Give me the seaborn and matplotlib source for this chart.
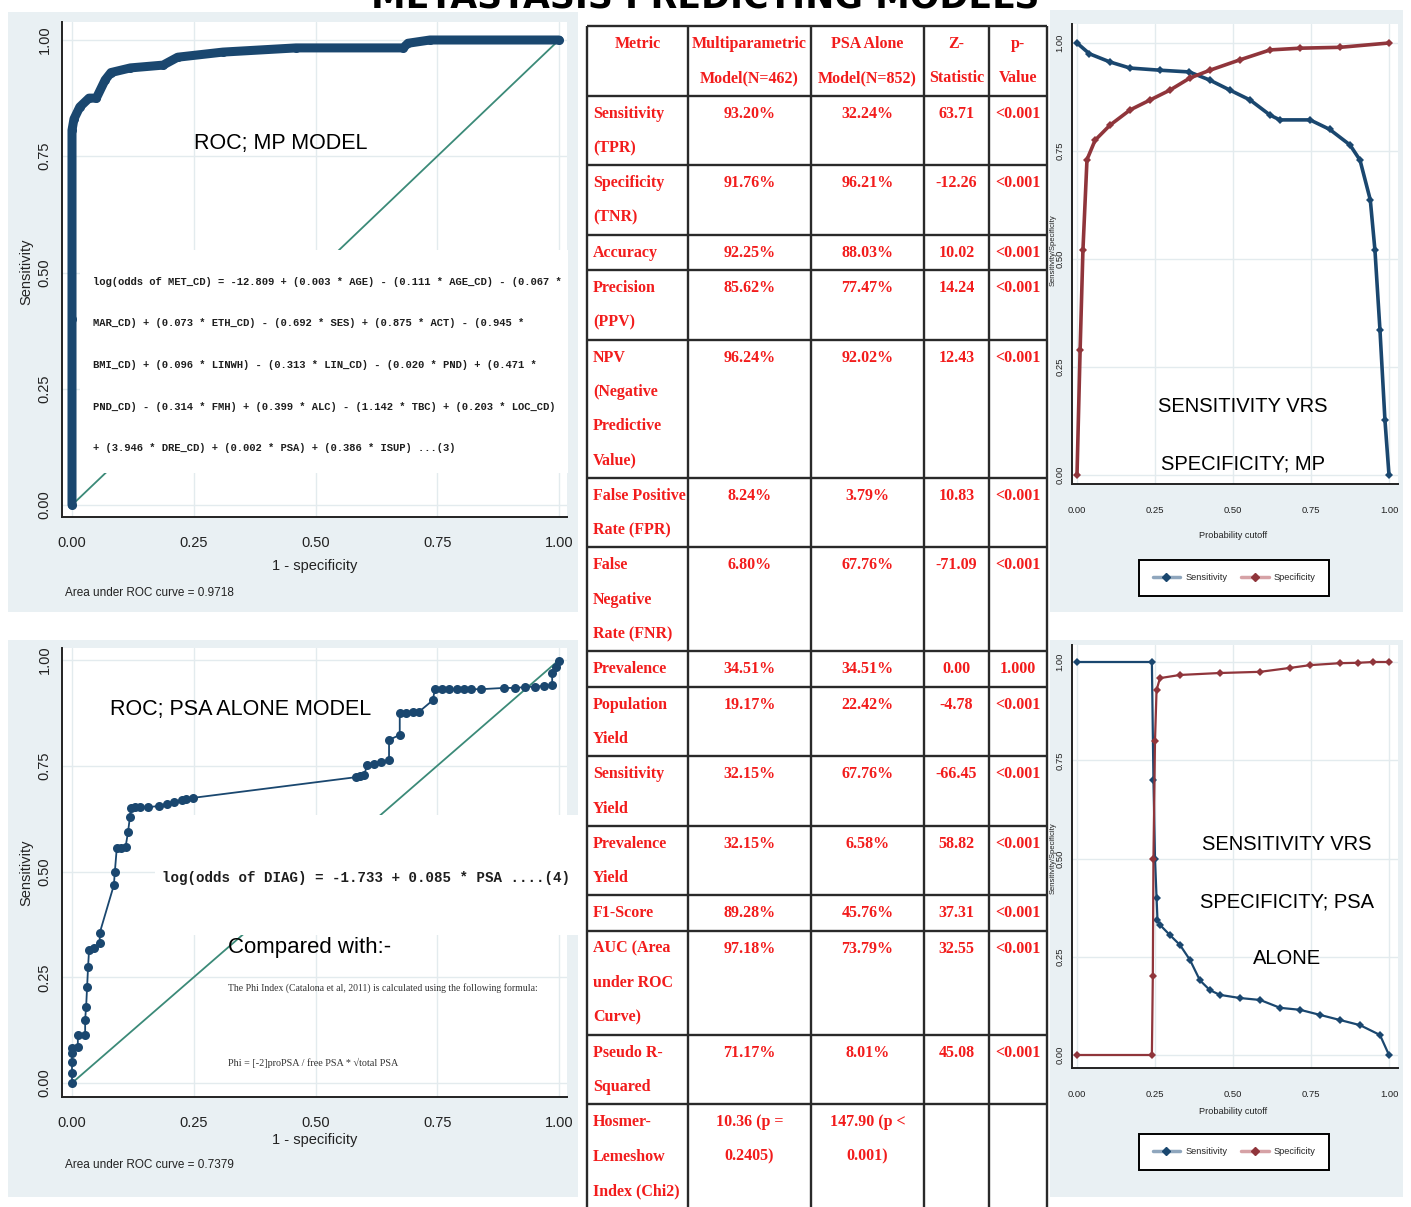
import os
import matplotlib
matplotlib.use("Agg")
import matplotlib.pyplot as plt
import seaborn as sns
from matplotlib import font_manager as fm
from matplotlib.patches import Rectangle
from matplotlib.lines import Line2D

# ------------------------------------------------------------------ data
title = "METASTASIS PREDICTING MODELS"

# ROC curve of the multiparametric (MP) model
mp_fpr = [0.000, 0.000, 0.000, 0.004, 0.016, 0.035, 0.050, 0.068, 0.080, 0.120,
          0.187, 0.217, 0.310, 0.460, 0.680, 0.690, 0.735, 1.000]
mp_tpr = [0.000, 0.400, 0.806, 0.830, 0.856, 0.875, 0.875, 0.914, 0.930, 0.940,
          0.946, 0.963, 0.974, 0.983, 0.983, 0.993, 1.000, 1.000]
mp_auc = 0.9718

# ROC curve of the PSA-alone model
psa_fpr = [0.000, 0.000, 0.000, 0.000, 0.000, 0.012, 0.012, 0.027, 0.027, 0.029,
           0.031, 0.033, 0.035, 0.045, 0.057, 0.057, 0.086, 0.088, 0.092, 0.100,
           0.110, 0.115, 0.119, 0.121, 0.130, 0.140, 0.156, 0.179, 0.195, 0.210,
           0.225, 0.235, 0.248, 0.583, 0.592, 0.600, 0.606, 0.620, 0.635, 0.651,
           0.651, 0.673, 0.673, 0.685, 0.700, 0.712, 0.741, 0.745, 0.760, 0.775,
           0.790, 0.805, 0.820, 0.840, 0.887, 0.910, 0.930, 0.950, 0.970, 0.986,
           0.986, 0.994, 1.000]
psa_tpr = [0.000, 0.024, 0.050, 0.070, 0.083, 0.085, 0.113, 0.113, 0.150, 0.180,
           0.227, 0.274, 0.314, 0.319, 0.331, 0.355, 0.468, 0.500, 0.556, 0.556,
           0.558, 0.593, 0.629, 0.650, 0.652, 0.652, 0.652, 0.655, 0.660, 0.664,
           0.668, 0.671, 0.674, 0.723, 0.725, 0.728, 0.752, 0.755, 0.758, 0.764,
           0.811, 0.823, 0.875, 0.875, 0.876, 0.877, 0.905, 0.931, 0.931, 0.931,
           0.931, 0.931, 0.931, 0.931, 0.934, 0.934, 0.936, 0.937, 0.939, 0.941,
           0.969, 0.983, 0.998]
psa_auc = 0.7379

# Sensitivity / specificity against probability cutoff, MP model
mp_cut_sens_x = [0.000, 0.040, 0.106, 0.170, 0.266, 0.360, 0.426, 0.490, 0.555, 0.619,
                 0.650, 0.747, 0.810, 0.875, 0.907, 0.940, 0.955, 0.971, 0.987, 1.000]
mp_cut_sens_y = [1.000, 0.975, 0.956, 0.942, 0.937, 0.933, 0.914, 0.891, 0.868, 0.833,
                 0.822, 0.822, 0.800, 0.764, 0.729, 0.637, 0.520, 0.336, 0.127, 0.000]
mp_cut_spec_x = [0.000, 0.010, 0.019, 0.032, 0.058, 0.106, 0.170, 0.234, 0.298, 0.362,
                 0.426, 0.522, 0.619, 0.715, 0.843, 1.000]
mp_cut_spec_y = [0.000, 0.290, 0.520, 0.730, 0.775, 0.810, 0.845, 0.868, 0.891, 0.919,
                 0.937, 0.961, 0.984, 0.988, 0.990, 1.000]

# Sensitivity / specificity against probability cutoff, PSA-alone model
psa_cut_sens_x = [0.000, 0.240, 0.245, 0.250, 0.255, 0.258, 0.266, 0.298, 0.330, 0.362,
                  0.394, 0.426, 0.458, 0.522, 0.587, 0.651, 0.715, 0.779, 0.843, 0.907,
                  0.971, 1.000]
psa_cut_sens_y = [1.000, 1.000, 0.700, 0.500, 0.400, 0.343, 0.331, 0.305, 0.280, 0.242,
                  0.190, 0.165, 0.153, 0.145, 0.140, 0.120, 0.115, 0.102, 0.089, 0.076,
                  0.051, 0.000]
psa_cut_spec_x = [0.000, 0.240, 0.243, 0.245, 0.250, 0.255, 0.266, 0.330, 0.458, 0.587,
                  0.683, 0.747, 0.843, 0.900, 0.950, 1.000]
psa_cut_spec_y = [0.000, 0.000, 0.200, 0.500, 0.800, 0.929, 0.959, 0.967, 0.972, 0.975,
                  0.985, 0.992, 0.997, 0.998, 1.000, 1.000]

tick_values = [0.0, 0.25, 0.5, 0.75, 1.0]
tick_labels = ["0.00", "0.25", "0.50", "0.75", "1.00"]

# Model comparison table
table_header = ["Metric", "Multiparametric\nModel(N=462)", "PSA Alone\nModel(N=852)",
                "Z-\nStatistic", "p-\nValue"]
metric_names = ["Sensitivity\n(TPR)", "Specificity\n(TNR)", "Accuracy", "Precision\n(PPV)",
                "NPV\n(Negative\nPredictive\nValue)", "False Positive\nRate (FPR)",
                "False\nNegative\nRate (FNR)", "Prevalence", "Population\nYield",
                "Sensitivity\nYield", "Prevalence\nYield", "F1-Score",
                "AUC (Area\nunder ROC\nCurve)", "Pseudo R-\nSquared",
                "Hosmer-\nLemeshow\nIndex (Chi2)"]
mp_values = ["93.20%", "91.76%", "92.25%", "85.62%", "96.24%", "8.24%", "6.80%", "34.51%",
             "19.17%", "32.15%", "32.15%", "89.28%", "97.18%", "71.17%", "10.36 (p =\n0.2405)"]
psa_values = ["32.24%", "96.21%", "88.03%", "77.47%", "92.02%", "3.79%", "67.76%", "34.51%",
              "22.42%", "67.76%", "6.58%", "45.76%", "73.79%", "8.01%", "147.90 (p <\n0.001)"]
z_values = ["63.71", "-12.26", "10.02", "14.24", "12.43", "10.83", "-71.09", "0.00",
            "-4.78", "-66.45", "58.82", "37.31", "32.55", "45.08", ""]
p_values = ["<0.001", "<0.001", "<0.001", "<0.001", "<0.001", "<0.001", "<0.001", "1.000",
            "<0.001", "<0.001", "<0.001", "<0.001", "<0.001", "<0.001", ""]

mp_equation = [
    "log(odds of MET_CD) = -12.809 + (0.003 * AGE) - (0.111 * AGE_CD) - (0.067 *",
    "MAR_CD) + (0.073 * ETH_CD) - (0.692 * SES) + (0.875 * ACT) - (0.945 *",
    "BMI_CD) + (0.096 * LINWH) - (0.313 * LIN_CD) - (0.020 * PND) + (0.471 *",
    "PND_CD) - (0.314 * FMH) + (0.399 * ALC) - (1.142 * TBC) + (0.203 * LOC_CD)",
    "+ (3.946 * DRE_CD) + (0.002 * PSA) + (0.386 * ISUP) ...(3)",
]
psa_equation = "log(odds of DIAG) = -1.733 + 0.085 * PSA ....(4)"
phi_note = "The Phi Index (Catalona et al, 2011) is calculated using the following formula:"
phi_formula = "Phi = [-2]proPSA / free PSA * \u221atotal PSA"

# ------------------------------------------------------------------ style
W, H = 1411, 1207
BLUE = "#1a476f"
RED = "#90353b"
DIAG = "#3b8a78"
PANEL_BG = "#e9f0f3"
GRID = "#e3ebee"
TABLE_RED = "#f21c1c"
INK = "#222222"


def font_exists(family, key):
    try:
        path = fm.findfont(fm.FontProperties(family=family), fallback_to_default=False)
    except ValueError:
        return False
    return key in os.path.basename(path).lower()


NARROW = font_exists("Liberation Sans Narrow", "narrow")
SANS = "Liberation Sans Narrow" if NARROW else "Liberation Sans"
K = 1.2 if NARROW else 1.0

sns.set_style("white")
plt.rcParams["font.family"] = [SANS, "DejaVu Sans"]


def fx(px):
    return px / W


def fy(py):
    return 1 - py / H


def rect_px(l, t, r, b):
    return [l / W, 1 - b / H, (r - l) / W, (b - t) / H]


def px_to_value(p, p0, p1, v0, v1):
    # map a pixel position to a data value using two reference pixels
    return v0 + (p - p0) * (v1 - v0) / (p1 - p0)


fig = plt.figure(figsize=(W / 100, H / 100), dpi=100)
fig.patch.set_facecolor("white")

# panel backgrounds
for (l, t, r, b) in [(8, 12, 578, 612), (8, 640, 578, 1197),
                     (1050, 10, 1403, 612), (1050, 640, 1403, 1197)]:
    fig.add_artist(Rectangle((fx(l), fy(b)), (r - l) / W, (b - t) / H,
                             transform=fig.transFigure, facecolor=PANEL_BG,
                             edgecolor="none", zorder=-10))

fig.text(fx(705), fy(8), title, ha="center", va="baseline", fontsize=25,
         fontweight="bold", family="DejaVu Sans", color="black")


def style_axes(ax, label_size=10.5, tick_len=6, xpad=8, ypad=4):
    ax.set_facecolor("white")
    ax.set_xticks(tick_values)
    ax.set_xticklabels(tick_labels)
    ax.set_yticks(tick_values)
    ax.set_yticklabels(tick_labels)
    ax.grid(True, color=GRID, lw=1.0)
    ax.set_axisbelow(True)
    for s in ["top", "right"]:
        ax.spines[s].set_visible(False)
    for s in ["left", "bottom"]:
        ax.spines[s].set_color(INK)
        ax.spines[s].set_linewidth(1.4)
    ax.tick_params(axis="both", direction="out", length=tick_len, width=1.1, color=INK,
                   labelsize=label_size * K, labelcolor=INK)
    ax.tick_params(axis="x", pad=xpad)
    ax.tick_params(axis="y", pad=ypad, labelrotation=90)
    for lab in ax.get_yticklabels():
        lab.set_va("center")


def roc_panel(rect, y0px, y1px, fpr, tpr, curve_kw, box, heading, heading_xy,
              xlabel_y, ylabel_y, auc, auc_y):
    l, t, r, b = rect
    ax = fig.add_axes(rect_px(*rect))
    ax.set_xlim(px_to_value(l, 72, 559, 0, 1), px_to_value(r, 72, 559, 0, 1))
    ax.set_ylim(px_to_value(b, y0px, y1px, 0, 1), px_to_value(t, y0px, y1px, 0, 1))
    style_axes(ax, ypad=1.5)
    ax.plot([0, 1], [0, 1], color=DIAG, lw=1.3, zorder=2)
    bl, bt, br, bb = box
    ax.add_patch(Rectangle((fx(bl), fy(bb)), (br - bl) / W, (bb - bt) / H,
                           transform=fig.transFigure, facecolor="white",
                           edgecolor="none", zorder=3, clip_on=False))
    sns.lineplot(x=fpr, y=tpr, ax=ax, sort=False, estimator=None, errorbar=None,
                 color=BLUE, zorder=4, clip_on=False, **curve_kw)
    ax.set_xlabel("1 - specificity", fontsize=10.5 * K, color=INK)
    ax.xaxis.set_label_coords(fx(315), fy(xlabel_y), transform=fig.transFigure)
    ax.xaxis.label.set_va("center")
    ax.set_ylabel("Sensitivity", fontsize=10.5 * K, color=INK)
    ax.yaxis.set_label_coords(fx(26), fy(ylabel_y), transform=fig.transFigure)
    ax.yaxis.label.set_va("center")
    fig.text(fx(65), fy(auc_y), f"Area under ROC curve = {auc:.4f}", fontsize=8.5 * K,
             ha="left", va="center", color=INK)
    fig.text(fx(heading_xy[0]), fy(heading_xy[1]), heading, fontsize=15.5 * K,
             ha="center", va="center", color="black", zorder=6)
    return ax


# ---- ROC, MP model
ax_mp = roc_panel((62, 22, 567, 517), 505, 40, mp_fpr, mp_tpr,
                  dict(linewidth=6.5, marker="o", markersize=6.5, markeredgewidth=0),
                  (80, 250, 568, 473), "ROC; MP MODEL", (281, 143), 566, 272,
                  mp_auc, 593)
for i, line in enumerate(mp_equation):
    fig.text(fx(93), fy(282 + 41.5 * i), line, fontsize=7.6, family="Liberation Mono",
             fontweight="bold", ha="left", va="center", color="#1e1e1e", zorder=6)

# ---- ROC, PSA alone model
ax_psa = roc_panel((62, 648, 567, 1097), 1083, 660, psa_fpr, psa_tpr,
                   dict(linewidth=1.3, marker="o", markersize=6.5, markeredgewidth=0),
                   (155, 815, 578, 935), "ROC; PSA ALONE MODEL", (241, 710), 1140, 873,
                   psa_auc, 1165)
fig.text(fx(162), fy(878), psa_equation, fontsize=10.2, family="Liberation Mono",
         fontweight="bold", ha="left", va="center", color="#1e1e1e", zorder=6)
fig.text(fx(228), fy(948), "Compared with:-", fontsize=16 * K, ha="left", va="center",
         color="black", zorder=6)
fig.text(fx(228), fy(988), phi_note, fontsize=7, family="Liberation Serif", ha="left",
         va="center", color="#333333", zorder=6)
fig.text(fx(228), fy(1063), phi_formula, fontsize=7.3, family="Liberation Serif",
         ha="left", va="center", color="#333333", zorder=6)


# ---- sensitivity / specificity vs probability cutoff
def cutoff_panel(rect, y0px, y1px, sx, sy, px_, py_, line_w, heading_lines, heading_x,
                 heading_y0, xlabel_y, ylabel_y, legend_y):
    l, t, r, b = rect
    ax = fig.add_axes(rect_px(*rect))
    ax.set_xlim(px_to_value(l, 1077, 1389, 0, 1), px_to_value(r, 1077, 1389, 0, 1))
    ax.set_ylim(px_to_value(b, y0px, y1px, 0, 1), px_to_value(t, y0px, y1px, 0, 1))
    style_axes(ax, label_size=6.8, tick_len=4, xpad=12, ypad=1.5)
    sns.lineplot(x=sx, y=sy, ax=ax, sort=False, estimator=None, errorbar=None,
                 color=BLUE, linewidth=line_w, marker="D", markersize=4.5,
                 markeredgewidth=0, clip_on=False, zorder=4)
    sns.lineplot(x=px_, y=py_, ax=ax, sort=False, estimator=None, errorbar=None,
                 color=RED, linewidth=line_w, marker="D", markersize=4.5,
                 markeredgewidth=0, clip_on=False, zorder=4)
    ax.set_xlabel("Probability cutoff", fontsize=6.6 * K, color=INK)
    ax.xaxis.set_label_coords(fx(1233), fy(xlabel_y), transform=fig.transFigure)
    ax.xaxis.label.set_va("center")
    ax.set_ylabel("Sensitivity/Specificity", fontsize=5.5 * K, color=INK)
    ax.yaxis.set_label_coords(fx(1053), fy(ylabel_y), transform=fig.transFigure)
    ax.yaxis.label.set_va("center")
    handles = [Line2D([], [], color="#8fa6bd", lw=2.5, marker="D", ms=4.5,
                      mfc=BLUE, mec=BLUE),
               Line2D([], [], color="#d6a2a6", lw=2.5, marker="D", ms=4.5,
                      mfc=RED, mec=RED)]
    leg = ax.legend(handles, ["Sensitivity", "Specificity"], loc="center",
                    bbox_to_anchor=(fx(1234), fy(legend_y)),
                    bbox_transform=fig.transFigure, ncol=2, frameon=True,
                    fancybox=False, edgecolor="black", framealpha=1,
                    fontsize=6.7 * K, handlelength=3.0, borderpad=1.4,
                    columnspacing=1.5, handletextpad=0.5)
    leg.get_frame().set_linewidth(1.4)
    for i, line in enumerate(heading_lines):
        ax.text(fx(heading_x), fy(heading_y0 + 57 * i), line, transform=fig.transFigure,
                fontsize=14.5 * K, ha="center", va="center", color="black", zorder=6)
    return ax


cutoff_panel((1072, 24, 1398, 484), 475, 43, mp_cut_sens_x, mp_cut_sens_y,
             mp_cut_spec_x, mp_cut_spec_y, 2.6,
             ["SENSITIVITY VRS", "SPECIFICITY; MP"], 1243, 407, 536, 250, 578)
cutoff_panel((1072, 645, 1398, 1068), 1055, 662, psa_cut_sens_x, psa_cut_sens_y,
             psa_cut_spec_x, psa_cut_spec_y, 1.6,
             ["SENSITIVITY VRS", "SPECIFICITY; PSA", "ALONE"], 1287, 845, 1111, 858, 1152)

# ---- comparison table
tab = fig.add_axes(rect_px(587, 26, 1047, 1207))
tab.set_xlim(587, 1047)
tab.set_ylim(1207, 26)
tab.axis("off")
col_edges = [587, 688, 811, 924, 989, 1047]
LINE = 34.3
rows = [table_header] + [list(r) for r in zip(metric_names, mp_values, psa_values,
                                              z_values, p_values)]
top = 26
row_edges = [top]
for ri, cells in enumerate(rows):
    n = max(c.count("\n") + 1 for c in cells)
    for j, cell in enumerate(cells):
        for k, line in enumerate(cell.split("\n")):
            y = top + 18 + k * LINE
            if j == 0 and ri > 0:
                x, ha = col_edges[0] + 6, "left"
            else:
                x, ha = (col_edges[j] + col_edges[j + 1]) / 2, "center"
            tab.text(x, y, line, ha=ha, va="center", fontsize=11.5,
                     family="Liberation Serif", fontweight="bold", color=TABLE_RED)
    top += LINE * n + 1
    row_edges.append(top)
tab.hlines(row_edges[:-1], col_edges[0], col_edges[-1], color="#2a2a2a", lw=1.7,
           clip_on=False)
tab.vlines(col_edges, 26, 1207, color="#2a2a2a", lw=1.7, clip_on=False)

fig.savefig("out.png", dpi=100, facecolor="white")
